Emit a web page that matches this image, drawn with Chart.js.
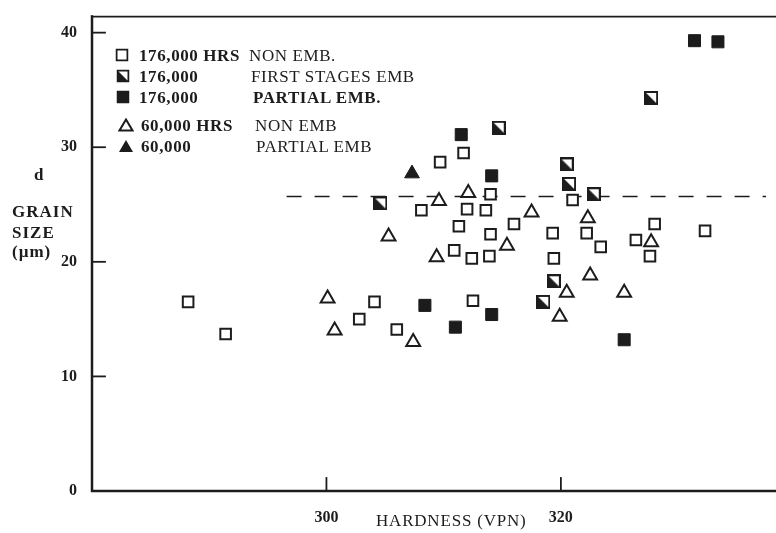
<!DOCTYPE html>
<html>
<head>
<meta charset="utf-8">
<script src="https://cdn.jsdelivr.net/npm/chart.js@4/dist/chart.umd.min.js"></script>
<style>
  html, body { margin: 0; padding: 0; background: #fff; }
  #wrap { position: relative; width: 776px; height: 533px; overflow: hidden; }
  canvas { position: absolute; left: 0; top: 0; }
  .t {
    position: absolute;
    transform: translateY(-50%);
    white-space: nowrap;
    font-family: "Liberation Serif", "DejaVu Serif", serif;
    color: #1c1c1c;
    line-height: 1;
    font-size: 17px;
    letter-spacing: 0.6px;
  }
  .b { font-weight: bold; }
  .mk { position: absolute; transform: translate(-50%, -50%); }
</style>
</head>
<body>
<div id="wrap">
  <canvas id="chart" width="776" height="533"></canvas>

  <!-- legend -->
  <svg class="mk" style="left:122px;top:55px" width="13" height="13"><rect x="1" y="1" width="11" height="11" fill="#fff" stroke="#1c1c1c" stroke-width="2"/></svg>
  <div class="t b" style="left:139px;top:55px">176,000 HRS</div>
  <div class="t" style="left:249px;top:55px">NON EMB.</div>

  <svg class="mk" style="left:123px;top:76px" width="13" height="13"><rect x="1" y="1" width="11" height="11" fill="#fff" stroke="#1c1c1c" stroke-width="2"/><path d="M1 1 L12 12 L1 12 Z" fill="#1c1c1c"/></svg>
  <div class="t b" style="left:139px;top:76px">176,000</div>
  <div class="t" style="left:251px;top:76px">FIRST STAGES EMB</div>

  <svg class="mk" style="left:123px;top:97px" width="13" height="13"><rect x="0" y="0" width="13" height="13" fill="#1c1c1c"/></svg>
  <div class="t b" style="left:139px;top:97px">176,000</div>
  <div class="t b" style="left:253px;top:97px">PARTIAL EMB.</div>

  <svg class="mk" style="left:126px;top:125px" width="16" height="14"><path d="M8 1.5 L14.5 12.5 L1.5 12.5 Z" fill="#fff" stroke="#1c1c1c" stroke-width="2"/></svg>
  <div class="t b" style="left:141px;top:125px">60,000 HRS</div>
  <div class="t" style="left:255px;top:125px">NON EMB</div>

  <svg class="mk" style="left:126px;top:146px" width="16" height="14"><path d="M8 1 L15 13 L1 13 Z" fill="#1c1c1c"/></svg>
  <div class="t b" style="left:141px;top:146px">60,000</div>
  <div class="t" style="left:256px;top:146px">PARTIAL EMB</div>

  <!-- axis titles -->
  <div class="t b" style="left:34px;top:174px">d</div>
  <div class="t b" style="left:12px;top:211px;font-size:17px;letter-spacing:1px">GRAIN</div>
  <div class="t b" style="left:12px;top:232px;font-size:17px;letter-spacing:1px">SIZE</div>
  <div class="t b" style="left:12px;top:251px;font-size:17px;letter-spacing:1px">(µm)</div>
  <div class="t" style="left:376px;top:520px;letter-spacing:0.8px">HARDNESS (VPN)</div>
</div>

<script>
// axis ranges and ticks
const xMin = 280, xMax = 337.5;
const yMin = 0, yMax = 41.4;
const xTicks = [300, 320];
const yTicks = [0, 10, 20, 30, 40];

// 176,000 hrs, non embrittled (open squares)
const nonEmb176X = [288.2, 291.4, 302.8, 304.1, 306.0, 312.5, 308.1, 309.7, 311.7, 312.0, 313.6, 314.0, 311.3, 314.0, 316.0, 310.9, 312.4, 313.9, 319.3, 319.4, 321.0, 322.2, 323.4, 326.4, 327.6, 328.0, 332.3];
const nonEmb176Y = [16.5, 13.7, 15.0, 16.5, 14.1, 16.6, 24.5, 28.7, 29.5, 24.6, 24.5, 25.9, 23.1, 22.4, 23.3, 21.0, 20.3, 20.5, 22.5, 20.3, 25.4, 22.5, 21.3, 21.9, 20.5, 23.3, 22.7];

// 176,000 hrs, first stages of embrittlement (half filled squares)
const first176X = [304.6, 314.7, 320.5, 320.7, 322.8, 327.7, 319.4, 318.5];
const first176Y = [25.1, 31.7, 28.5, 26.8, 25.9, 34.3, 18.3, 16.5];

// 176,000 hrs, partial embrittlement (filled squares)
const partial176X = [308.4, 311.0, 314.1, 311.5, 314.1, 325.4, 331.4, 333.4];
const partial176Y = [16.2, 14.3, 15.4, 31.1, 27.5, 13.2, 39.3, 39.2];

// 60,000 hrs, non embrittled (open triangles)
const nonEmb60X = [300.1, 300.7, 307.4, 305.3, 309.4, 309.6, 312.1, 315.4, 317.5, 322.3, 322.5, 320.5, 319.9, 325.4, 327.7];
const nonEmb60Y = [16.8, 14.0, 13.0, 22.2, 20.4, 25.3, 26.0, 21.4, 24.3, 23.8, 18.8, 17.3, 15.2, 17.3, 21.7];

// 60,000 hrs, partial embrittlement (filled triangle)
const partial60X = [307.3];
const partial60Y = [27.7];

// dashed mean line
const meanX = [296.6, 337.5];
const meanY = [25.7, 25.7];

const ink = '#1c1c1c';
const pts = (xs, ys) => xs.map((x, i) => ({ x: x, y: ys[i] }));

// half filled square marker
const half = document.createElement('canvas');
half.width = 14; half.height = 14;
(function () {
  const g = half.getContext('2d');
  g.fillStyle = '#fff';
  g.fillRect(1, 1, 12, 12);
  g.fillStyle = ink;
  g.beginPath();
  g.moveTo(1, 1); g.lineTo(13, 13); g.lineTo(1, 13); g.closePath();
  g.fill();
  g.strokeStyle = ink;
  g.lineWidth = 2;
  g.strokeRect(1, 1, 12, 12);
})();

// frame and inward tick marks
const framePlugin = {
  id: 'frame',
  afterDraw(chart) {
    const { ctx, chartArea: a, scales } = chart;
    ctx.save();
    ctx.strokeStyle = ink;
    ctx.lineCap = 'square';
    ctx.lineWidth = 2.5;
    ctx.beginPath();
    ctx.moveTo(a.left, a.top);
    ctx.lineTo(a.left, a.bottom);
    ctx.lineTo(776, a.bottom);
    ctx.stroke();
    ctx.lineWidth = 1.8;
    ctx.beginPath();
    ctx.moveTo(a.left, a.top);
    ctx.lineTo(776, a.top);
    ctx.stroke();
    ctx.lineWidth = 1.8;
    yTicks.forEach(v => {
      if (v === 0) return;
      const y = scales.y.getPixelForValue(v);
      ctx.beginPath();
      ctx.moveTo(a.left, y);
      ctx.lineTo(a.left + 13, y);
      ctx.stroke();
    });
    xTicks.forEach(v => {
      const x = scales.x.getPixelForValue(v);
      ctx.beginPath();
      ctx.moveTo(x, a.bottom);
      ctx.lineTo(x, a.bottom - 13);
      ctx.stroke();
    });
    ctx.restore();
  }
};

new Chart(document.getElementById('chart'), {
  type: 'scatter',
  data: {
    datasets: [
      {
        label: '176,000 HRS NON EMB.',
        data: pts(nonEmb176X, nonEmb176Y),
        pointStyle: 'rect', pointRadius: 7.5,
        borderColor: ink, backgroundColor: '#fff', borderWidth: 2, order: 1
      },
      {
        label: '176,000 FIRST STAGES EMB',
        data: pts(first176X, first176Y),
        pointStyle: half, pointRadius: 7, order: 1
      },
      {
        label: '176,000 PARTIAL EMB.',
        data: pts(partial176X, partial176Y),
        pointStyle: 'rect', pointRadius: 8.5,
        borderColor: ink, backgroundColor: ink, borderWidth: 1, order: 1
      },
      {
        label: '60,000 HRS NON EMB',
        data: pts(nonEmb60X, nonEmb60Y),
        pointStyle: 'triangle', pointRadius: 8,
        borderColor: ink, backgroundColor: '#fff', borderWidth: 2, order: 1
      },
      {
        label: '60,000 PARTIAL EMB',
        data: pts(partial60X, partial60Y),
        pointStyle: 'triangle', pointRadius: 8.5,
        borderColor: ink, backgroundColor: ink, borderWidth: 1, order: 1
      },
      {
        type: 'line',
        label: 'mean',
        data: pts(meanX, meanY),
        borderColor: ink, borderWidth: 1.6, borderDash: [15, 13],
        pointRadius: 0, fill: false, order: 10
      }
    ]
  },
  options: {
    responsive: false,
    animation: false,
    events: [],
    layout: { padding: { left: 0, right: 6, top: 16, bottom: 0 } },
    plugins: { legend: { display: false }, tooltip: { enabled: false } },
    scales: {
      x: {
        type: 'linear', min: xMin, max: xMax,
        grid: { display: false }, border: { display: false },
        afterFit: s => { s.height = 42; },
        afterBuildTicks: s => { s.ticks = xTicks.map(v => ({ value: v })); },
        ticks: {
          color: ink, padding: 9,
          font: { family: '"Liberation Serif", serif', size: 16, weight: 'bold' }
        }
      },
      y: {
        type: 'linear', min: yMin, max: yMax,
        grid: { display: false }, border: { display: false },
        afterFit: s => { s.width = 92; },
        afterBuildTicks: s => { s.ticks = yTicks.map(v => ({ value: v })); },
        ticks: {
          color: ink, padding: 7,
          font: { family: '"Liberation Serif", serif', size: 16, weight: 'bold' }
        }
      }
    }
  },
  plugins: [framePlugin]
});
</script>
</body>
</html>
